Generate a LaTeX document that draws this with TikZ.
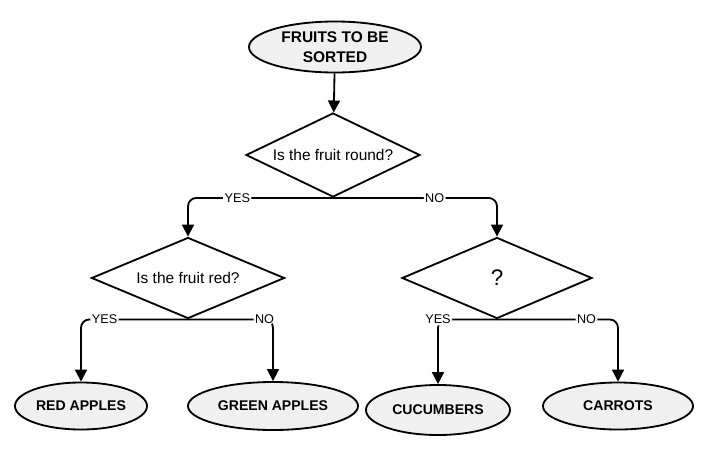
\documentclass[tikz,border=0pt]{standalone}
\usepackage{fontspec}
\setmainfont{Liberation Sans}
\usetikzlibrary{shapes.geometric,arrows.meta}

\begin{document}
\begin{tikzpicture}[x=0.025cm,y=-0.025cm,
    term/.style={ellipse,draw,line width=1.3pt,fill=gray!12,inner sep=0pt,align=center,font=\fontsize{10}{12}\selectfont\bfseries},
    question/.style={diamond,draw,line width=1.3pt,inner sep=0pt,font=\fontsize{11}{13}\selectfont},
    flow/.style={line width=1.3pt,-{Triangle[length=8.5pt,width=8.5pt]},rounded corners=6pt},
    answer/.style={fill=white,inner sep=1pt,font=\fontsize{9}{10}\selectfont}]
    \useasboundingbox (0,0) rectangle (709,448);

    % Start
    \node[term,minimum width=4.3cm,minimum height=1.275cm,font=\fontsize{11}{14}\selectfont\bfseries] (fruits) at (335,47) {FRUITS TO BE\\SORTED};

    % Questions
    \node[question,aspect=2.07,minimum width=4.35cm,minimum height=2.1cm] (round) at (333,155) {Is the fruit round?};
    \node[question,aspect=2.38,minimum width=4.825cm,minimum height=2.025cm] (red) at (188,278) {Is the fruit red?};
    \node[question,aspect=2.35,minimum width=4.75cm,minimum height=2.025cm,font=\fontsize{16}{18}\selectfont] (what) at (497,278) {?};

    % Results
    \node[term,minimum width=3.3cm,minimum height=1.175cm] (redapples) at (81,406) {RED APPLES};
    \node[term,minimum width=4.25cm,minimum height=1.2cm] (greenapples) at (273,406) {GREEN APPLES};
    \node[term,minimum width=3.6cm,minimum height=1.25cm] (cucumbers) at (438,410) {CUCUMBERS};
    \node[term,minimum width=3.75cm,minimum height=1.175cm] (carrots) at (618,406) {CARROTS};

    % Arrows
    \draw[flow] (fruits) -- (round);
    \draw[flow] (round.south) -| node[answer,pos=0.33] {YES} (red.north);
    \draw[flow] (round.south) -| node[answer,pos=0.31] {NO} (what.north);
    \draw[flow] (red.south) -| node[answer,pos=0.39] {YES} (redapples.north);
    \draw[flow] (red.south) -| node[answer,pos=0.45] {NO} (greenapples.north);
    \draw[flow] (what.south) -| node[answer,pos=0.5] {YES} (cucumbers.north);
    \draw[flow] (what.south) -| node[answer,pos=0.37] {NO} (carrots.north);
\end{tikzpicture}
\end{document}
